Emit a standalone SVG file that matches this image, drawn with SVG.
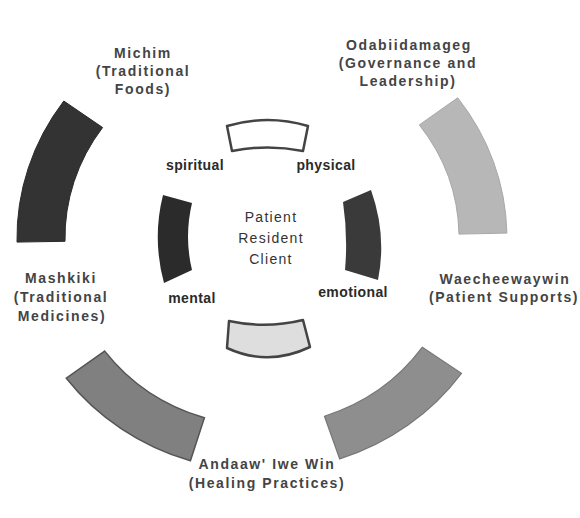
<svg xmlns="http://www.w3.org/2000/svg" width="580" height="518" viewBox="0 0 580 518">
  <style>
    .outer-label { font-family: "Liberation Sans", Arial, sans-serif; font-size: 14px; font-weight: bold; letter-spacing: 1.6px; fill: #444; text-anchor: middle; }
    .inner-label { font-family: "Liberation Sans", Arial, sans-serif; font-size: 14px; font-weight: bold; letter-spacing: 0.4px; fill: #2a2a2a; text-anchor: middle; }
    .center-label { font-family: "Liberation Sans", Arial, sans-serif; font-size: 14px; letter-spacing: 1.3px; fill: #333; text-anchor: middle; }
    .ring-outline { fill: #fff; stroke: #444; stroke-width: 2.5; stroke-linejoin: round; }
  </style>
  <rect width="580" height="518" fill="#fff"/>

  <!-- Outer ring: four teachings -->
  <g id="michim">
    <path d="M 17,242.1 A 245 233 0 0 1 63.8,101 L 102.6,127.5 A 197 188 0 0 0 65,241.3 Z" fill="#333" stroke="#2a2a2a" stroke-width="1"/>
    <text class="outer-label" x="143" y="58">Michim</text>
    <text class="outer-label" x="143" y="76">(Traditional</text>
    <text class="outer-label" x="143" y="94">Foods)</text>
  </g>

  <g id="odabiidamageg">
    <path d="M 457.7,97.8 A 245 233 0 0 1 506.9,233.1 L 459,234.1 A 197 188 0 0 0 419.3,124.9 Z" fill="#b7b7b7" stroke="#a8a8a8" stroke-width="1"/>
    <text class="outer-label" x="409" y="50">Odabiidamageg</text>
    <text class="outer-label" x="408" y="68">(Governance and</text>
    <text class="outer-label" x="408" y="86">Leadership)</text>
  </g>

  <g id="waecheewaywin">
    <path d="M 461.5,373.3 A 245 233 0 0 1 339.7,458.9 L 324.5,416.3 A 197 188 0 0 0 422.4,347.2 Z" fill="#8e8e8e" stroke="#777" stroke-width="1.2"/>
    <text class="outer-label" x="505" y="284">Waecheewaywin</text>
    <text class="outer-label" x="504" y="302">(Patient Supports)</text>
  </g>

  <g id="andaaw-iwe-win">
    <text class="outer-label" x="267" y="469">Andaaw' Iwe Win</text>
    <text class="outer-label" x="267" y="488">(Healing Practices)</text>
  </g>

  <g id="mashkiki">
    <path d="M 190.4,460.8 A 245 233 0 0 1 66.3,378.2 L 104.7,351.1 A 197 188 0 0 0 204.4,417.8 Z" fill="#808080" stroke="#555" stroke-width="1.5"/>
    <text class="outer-label" x="61" y="283">Mashkiki</text>
    <text class="outer-label" x="61" y="302">(Traditional</text>
    <text class="outer-label" x="62" y="321">Medicines)</text>
  </g>

  <!-- Inner ring: four aspects of the person -->
  <g id="spiritual">
    <path d="M 163,195 L 192,203 Q 184,237 192,270 L 164,283 Q 152,239 163,195 Z" fill="#2b2b2b"/>
    <text class="inner-label" x="195" y="170">spiritual</text>
  </g>

  <g id="physical">
    <path class="ring-outline" d="M 227,126 Q 267.5,114 308,126 L 303,151 Q 267.5,144 232,151 Z"/>
    <text class="inner-label" x="326" y="170">physical</text>
  </g>

  <g id="emotional">
    <path d="M 343,202 L 371,190 Q 387,235 378,280 L 345,270 Q 348,236 343,202 Z" fill="#3a3a3a"/>
    <text class="inner-label" x="353" y="297">emotional</text>
  </g>

  <g id="mental">
    <path d="M 229,321 Q 266,329 303,320 L 310,347 Q 268,367 227,348 Z" fill="#dedede" stroke="#444" stroke-width="2.5" stroke-linejoin="round"/>
    <text class="inner-label" x="192" y="303">mental</text>
  </g>

  <!-- Centre -->
  <g id="patient">
    <text class="center-label" x="271" y="222">Patient</text>
    <text class="center-label" x="271" y="243">Resident</text>
    <text class="center-label" x="271" y="264">Client</text>
  </g>

  <g id="connectors"/>
</svg>
